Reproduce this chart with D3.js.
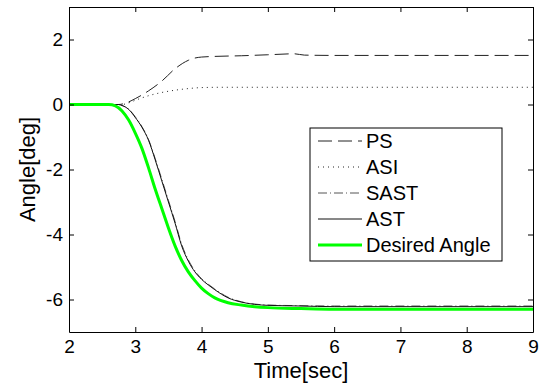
<!DOCTYPE html>
<html>
<head>
<meta charset="utf-8">
<script src="https://cdn.jsdelivr.net/npm/d3@7"></script>
<style>
  body { margin: 0; background: #fff; }
  text { font-family: "Liberation Sans", Arial, sans-serif; fill: #000; }
</style>
</head>
<body>
<div id="chart"></div>
<script>
var chart_width  = 542;
var chart_height = 390;
var margin = { left: 69, right: 9, top: 7, bottom: 58 };

// time samples [sec] and angles [deg]
var t_desired = [2, 2.6, 2.7, 2.8, 2.9, 3.0, 3.1, 3.2, 3.3, 3.4, 3.5, 3.6, 3.7, 3.8, 3.9, 4.0, 4.1, 4.2, 4.4, 4.6, 4.8, 5.0, 5.5, 6, 9];
var v_desired = [0, 0, -0.04, -0.2, -0.48, -0.88, -1.35, -1.95, -2.6, -3.2, -3.8, -4.35, -4.8, -5.15, -5.42, -5.65, -5.82, -5.95, -6.1, -6.17, -6.22, -6.25, -6.28, -6.3, -6.3];

var t_ast = [2, 2.75, 2.8, 2.9, 3.0, 3.1, 3.2, 3.3, 3.4, 3.5, 3.6, 3.7, 3.8, 3.9, 4.0, 4.1, 4.2, 4.4, 4.6, 4.8, 5.0, 5.5, 6, 9];
var v_ast = [0, 0, -0.03, -0.15, -0.4, -0.7, -1.1, -1.7, -2.35, -3.0, -3.65, -4.35, -4.82, -5.15, -5.38, -5.55, -5.7, -5.95, -6.08, -6.15, -6.18, -6.2, -6.22, -6.22];

var t_sast = [2, 2.75, 2.8, 2.9, 3.0, 3.1, 3.2, 3.3, 3.4, 3.5, 3.6, 3.7, 3.8, 3.9, 4.0, 4.1, 4.2, 4.4, 4.6, 4.8, 5.0, 5.5, 6, 9];
var v_sast = [0, 0, -0.03, -0.14, -0.38, -0.68, -1.08, -1.66, -2.3, -2.95, -3.6, -4.3, -4.78, -5.12, -5.36, -5.53, -5.68, -5.93, -6.07, -6.14, -6.17, -6.19, -6.2, -6.2];

var t_ps = [2, 2.75, 2.85, 3.0, 3.2, 3.4, 3.6, 3.8, 3.9, 4.0, 4.2, 4.6, 5.0, 5.4, 5.55, 6, 9];
var v_ps = [0, 0, 0.04, 0.18, 0.42, 0.72, 1.1, 1.36, 1.43, 1.46, 1.48, 1.5, 1.53, 1.56, 1.52, 1.51, 1.51];

var t_asi = [2, 2.8, 2.9, 3.0, 3.2, 3.4, 3.6, 3.8, 4.0, 4.3, 9];
var v_asi = [0, 0, 0.05, 0.13, 0.27, 0.37, 0.44, 0.49, 0.52, 0.53, 0.53];

var x_ticks = [2, 3, 4, 5, 6, 7, 8, 9];
var y_ticks = [-6, -4, -2, 0, 2];
var legend_names = ['PS', 'ASI', 'SAST', 'AST', 'Desired Angle'];

var svg = d3.select('#chart')
            .append('svg')
            .attr('width', chart_width)
            .attr('height', chart_height);

var x_scale = d3.scaleLinear()
                .domain([2, 9])
                .range([margin.left, chart_width - margin.right]);

var y_scale = d3.scaleLinear()
                .domain([-7, 3])
                .range([chart_height - margin.bottom, margin.top]);

var series = [
    { name: 'PS',   t: t_ps,   v: v_ps,   color: '#222', width: 1, dash: '14,6' },
    { name: 'ASI',  t: t_asi,  v: v_asi,  color: '#222', width: 1, dash: '1,4' },
    { name: 'SAST', t: t_sast, v: v_sast, color: '#555', width: 1, dash: '9,3,1,3' },
    { name: 'AST',  t: t_ast,  v: v_ast,  color: '#111', width: 1, dash: null },
    { name: 'Desired Angle', t: t_desired, v: v_desired, color: '#00ff00', width: 3, dash: null }
];

var line = d3.line()
             .x((d) => x_scale(d[0]))
             .y((d) => y_scale(d[1]))
             .curve(d3.curveMonotoneX);

svg.append('defs').append('clipPath').attr('id', 'clip')
   .append('rect')
   .attr('x', margin.left).attr('y', margin.top)
   .attr('width', x_scale(9) - x_scale(2))
   .attr('height', y_scale(-7) - y_scale(3));

svg.append('g').attr('clip-path', 'url(#clip)')
   .selectAll('path')
   .data(series)
   .enter()
   .append('path')
   .attr('d', (s) => line(s.t.map((t, i) => [t, s.v[i]])))
   .attr('fill', 'none')
   .attr('stroke', (s) => s.color)
   .attr('stroke-width', (s) => s.width)
   .attr('stroke-dasharray', (s) => s.dash);

// axes, ticks pointing inwards on all four sides
// plain hyphen for negatives, like the original
var int_fmt = (d) => String(d);
var x_bottom = d3.axisBottom(x_scale).tickValues(x_ticks).tickFormat(int_fmt).tickSizeInner(-5).tickSizeOuter(0).tickPadding(8);
var x_top    = d3.axisTop(x_scale).tickValues(x_ticks).tickSizeInner(-5).tickSizeOuter(0).tickFormat('');
var y_left   = d3.axisLeft(y_scale).tickValues(y_ticks).tickFormat(int_fmt).tickSizeInner(-5).tickSizeOuter(0).tickPadding(6);
var y_right  = d3.axisRight(y_scale).tickValues(y_ticks).tickSizeInner(-5).tickSizeOuter(0).tickFormat('');

svg.append('g').attr('transform', 'translate(0,' + y_scale(-7) + ')').call(x_bottom);
svg.append('g').attr('transform', 'translate(0,' + y_scale(3) + ')').call(x_top);
svg.append('g').attr('transform', 'translate(' + x_scale(2) + ',0)').call(y_left);
svg.append('g').attr('transform', 'translate(' + x_scale(9) + ',0)').call(y_right);

svg.selectAll('.domain, .tick line').attr('stroke', '#000');
svg.selectAll('.tick text')
   .style('font-size', '19px')
   .style('font-family', '"Liberation Sans", Arial, sans-serif')
   .attr('fill', '#000');

// axis labels
svg.append('text')
   .text('Time[sec]')
   .attr('x', (x_scale(2) + x_scale(9)) / 2)
   .attr('y', 378)
   .attr('text-anchor', 'middle')
   .style('font-size', '22px');

svg.append('text')
   .text('Angle[deg]')
   .attr('transform', 'translate(35,' + ((y_scale(-7) + y_scale(3)) / 2) + ') rotate(-90)')
   .attr('text-anchor', 'middle')
   .style('font-size', '22px');

// legend
var legend = svg.append('g').attr('transform', 'translate(310,128)');
legend.append('rect')
      .attr('x', 0).attr('y', 0)
      .attr('width', 192).attr('height', 133)
      .attr('fill', '#fff')
      .attr('stroke', '#000')
      .attr('stroke-width', 1);

var entry = legend.selectAll('g.entry')
                  .data(series)
                  .enter()
                  .append('g')
                  .attr('class', 'entry')
                  .attr('transform', (d, i) => 'translate(0,' + (13 + i * 26) + ')');

entry.append('line')
     .attr('x1', 8).attr('x2', 52)
     .attr('y1', 0).attr('y2', 0)
     .attr('stroke', (s) => s.color)
     .attr('stroke-width', (s) => s.width)
     .attr('stroke-dasharray', (s) => s.dash);

entry.append('text')
     .text((s, i) => legend_names[i])
     .attr('x', 56)
     .attr('y', 7)
     .style('font-size', '20px');
</script>
</body>
</html>
